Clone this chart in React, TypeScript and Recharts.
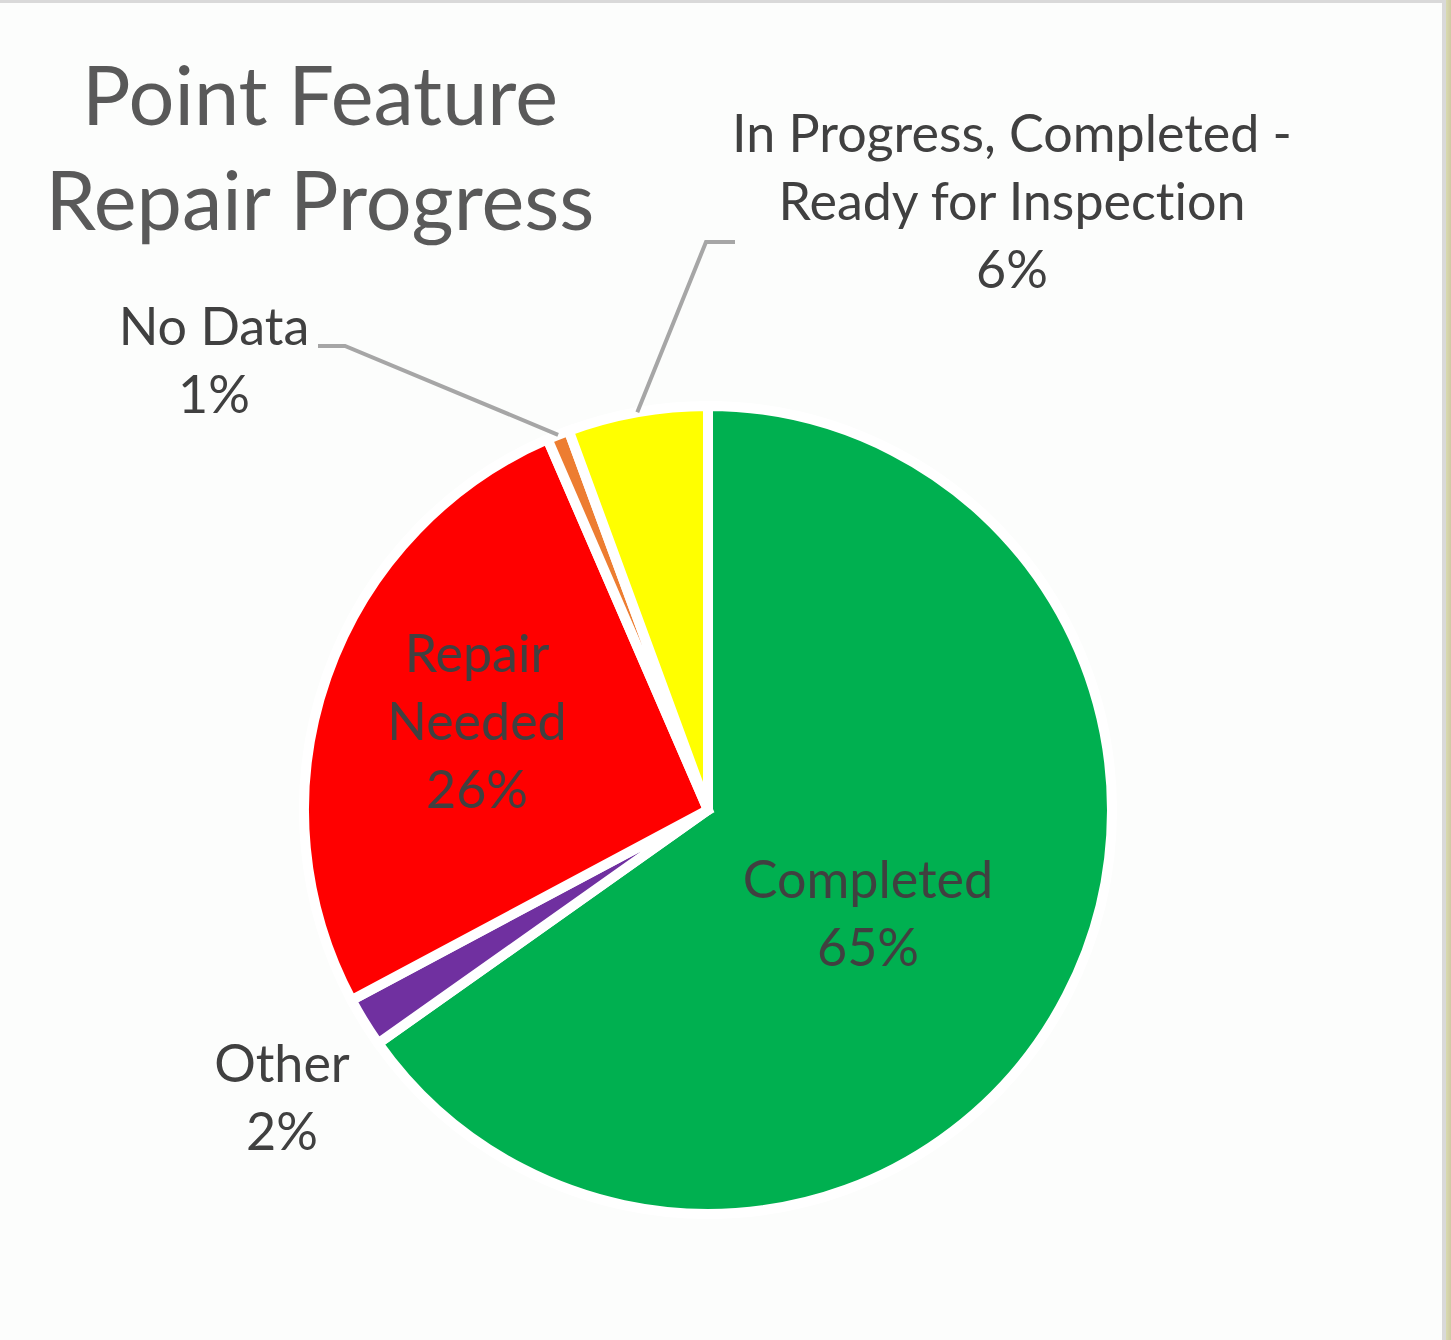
import React from "react";
import { PieChart, Pie, Cell } from "recharts";

const CATEGORIES = [
  "Completed",
  "Other",
  "Repair Needed",
  "No Data",
  "In Progress, Completed - Ready for Inspection",
];
const VALUES = [65.2, 2.0, 26.3, 0.9, 5.6];
const LABEL_LINES = [
  ["Completed"],
  ["Other"],
  ["Repair", "Needed"],
  ["No Data"],
  ["In Progress, Completed -", "Ready for Inspection"],
];
const COLORS = ["#00b050", "#7030a0", "#ff0000", "#ed7d31", "#ffff00"];
const TITLE_LINES = ["Point Feature", "Repair Progress"];

// label placement relative to pie centre (first baseline), plus optional leader elbow
const LABEL_LAYOUT = [
  { dx: 160, dy: 88 },
  { dx: -426, dy: 272 },
  { dx: -231, dy: -138 },
  { dx: -494, dy: -465, elbow: { dx: -363, dy: -464 }, end: { dx: -390, dy: -464 } },
  { dx: 304, dy: -658, elbow: { dx: -2, dy: -568 }, end: { dx: 27, dy: -568 } },
];

const data = CATEGORIES.map((name, i) => ({ name, value: VALUES[i] }));

const FONT = "Lato, 'Open Sans', sans-serif";
const LINE_H = 68;
const RAD = Math.PI / 180;

const renderLabel = (props: any) => {
  const { cx, cy, midAngle, outerRadius, percent, index } = props;
  const lay: any = LABEL_LAYOUT[index];
  const x = cx + lay.dx;
  const y0 = cy + lay.dy;
  const lines = [...LABEL_LINES[index], `${Math.round(percent * 100)}%`];
  let leader = null;
  if (lay.elbow) {
    const sx = cx + outerRadius * Math.cos(-midAngle * RAD);
    const sy = cy + outerRadius * Math.sin(-midAngle * RAD);
    const pts = `${sx},${sy} ${cx + lay.elbow.dx},${cy + lay.elbow.dy} ${cx + lay.end.dx},${cy + lay.end.dy}`;
    leader = <polyline points={pts} fill="none" stroke="#a6a6a6" strokeWidth={4} />;
  }
  return (
    <g key={`lbl-${index}`}>
      {leader}
      <text
        x={x}
        y={y0}
        textAnchor="middle"
        fill="#404040"
        fontFamily={FONT}
        fontSize={52}
        style={{ fontVariantLigatures: "none" }}
      >
        {lines.map((t, i) => (
          <tspan key={i} x={x} y={y0 + i * LINE_H}>
            {t}
          </tspan>
        ))}
      </text>
    </g>
  );
};

export default function App() {
  return (
    <div
      style={{
        position: "absolute",
        left: 0,
        top: 0,
        width: 1451,
        height: 1340,
        background: "#fcfdfc",
        overflow: "hidden",
      }}
    >
      <div style={{ position: "absolute", left: 0, top: 0, width: 1451, height: 3, background: "#d9d9d9" }} />
      <div style={{ position: "absolute", left: 1442, top: 0, width: 4, height: 1340, background: "#d9d9d9" }} />
      <div
        style={{
          position: "absolute",
          left: 1446,
          top: 0,
          width: 5,
          height: 1340,
          background: "linear-gradient(90deg, #d9dbb0, #cfc9a4)",
        }}
      />
      <svg style={{ position: "absolute", left: 0, top: 0 }} width={700} height={260}>
        {TITLE_LINES.map((t, i) => (
          <text
            key={i}
            x={320}
            y={125 + i * 105}
            textAnchor="middle"
            fill="#595959"
            fontFamily={FONT}
            fontSize={81}
            style={{ fontVariantLigatures: "none" }}
          >
            {t}
          </text>
        ))}
      </svg>
      <div style={{ position: "absolute", left: 0, top: 0 }}>
        <PieChart width={1440} height={1340} margin={{ top: 0, right: 0, bottom: 0, left: 0 }}>
          <Pie
            data={data}
            dataKey="value"
            nameKey="name"
            cx={708}
            cy={810}
            outerRadius={404}
            startAngle={90}
            endAngle={-270}
            stroke="#ffffff"
            strokeWidth={10}
            label={renderLabel}
            labelLine={false}
            isAnimationActive={false}
          >
            {data.map((d, i) => (
              <Cell key={d.name} fill={COLORS[i]} stroke="#ffffff" strokeWidth={10} />
            ))}
          </Pie>
        </PieChart>
      </div>
    </div>
  );
}
